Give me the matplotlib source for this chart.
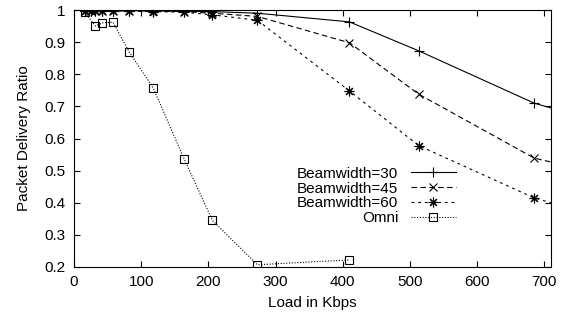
# packet delivery ratio vs offered load, directional beamwidths vs omni

import numpy as np
import matplotlib
matplotlib.use('Agg')
import matplotlib.pyplot as plt

plt.rcParams['font.family'] = ['Liberation Sans', 'DejaVu Sans']
plt.rcParams['font.size'] = 11

# load values (Kbps); last beam point lies just past the right border
load_beam = [16, 25, 32, 42, 58, 82, 118, 164, 206, 273, 410, 513, 685, 720]
load_omni = [16, 32, 42, 58, 82, 118, 164, 206, 273, 410]

pdr_bw30 = [0.998, 0.998, 0.998, 0.998, 0.998, 0.998, 0.997, 0.996, 0.995, 0.99, 0.963, 0.873, 0.71, 0.689]
pdr_bw45 = [0.998, 0.998, 0.998, 0.998, 0.998, 0.997, 0.996, 0.995, 0.99, 0.98, 0.898, 0.738, 0.539, 0.522]
pdr_bw60 = [0.997, 0.997, 0.997, 0.997, 0.997, 0.996, 0.995, 0.993, 0.985, 0.968, 0.748, 0.578, 0.415, 0.394]
pdr_omni = [0.993, 0.95, 0.96, 0.962, 0.87, 0.757, 0.536, 0.345, 0.207, 0.222]

labels = ['Beamwidth=30', 'Beamwidth=45', 'Beamwidth=60', 'Omni']

fig = plt.figure(figsize=(5.63, 3.21), dpi=100)
ax = fig.add_axes([74/563, 54/321, 477/563, 257/321])

lw = 0.8
ax.plot(load_beam, pdr_bw30, color='black', lw=lw, linestyle='-',
        marker='+', ms=7, mew=lw, label=labels[0])
ax.plot(load_beam, pdr_bw45, color='black', lw=lw, linestyle=(0, (5, 3)),
        marker='x', ms=6, mew=lw, label=labels[1])
ax.plot(load_beam, pdr_bw60, color='black', lw=lw, linestyle=(0, (2.5, 3.5)),
        marker=(8, 2, 0), ms=7, mew=lw, label=labels[2])
ax.plot(load_omni, pdr_omni, color='black', lw=lw, linestyle=(0, (1, 1.5)),
        marker='s', ms=6, mew=lw, mfc='none', mec='black', label=labels[3])

ax.set_xlim(0, 710)
ax.set_ylim(0.2, 1.0)
ax.set_xticks(np.arange(0, 701, 100))
ax.set_yticks(np.arange(0.2, 1.01, 0.1))
ax.set_yticklabels(['0.2', '0.3', '0.4', '0.5', '0.6', '0.7', '0.8', '0.9', '1'])
ax.tick_params(direction='in', top=True, right=True, length=4, width=0.8, pad=6)
for s in ax.spines.values():
    s.set_linewidth(0.8)

ax.set_xlabel('Load in Kbps', labelpad=5)
ax.set_ylabel('Packet Delivery Ratio', labelpad=10)

ax.legend(loc='upper right', bbox_to_anchor=(0.80, 0.39), frameon=False,
          markerfirst=False, handlelength=2.95, handletextpad=0.8,
          labelspacing=0.05, borderpad=0, borderaxespad=0)

plt.savefig('out.png', dpi=100)
